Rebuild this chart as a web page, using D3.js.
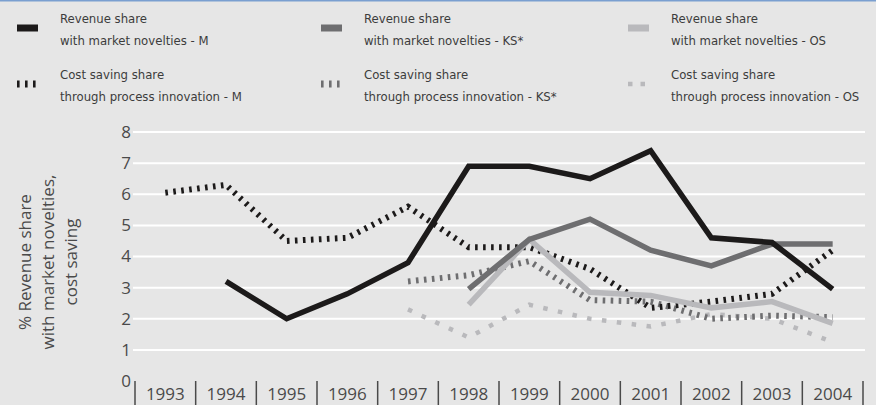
<!DOCTYPE html>
<meta charset="utf-8">
<style>
body { margin: 0; background: #e6e6e6; }
svg { display: block; background: #e6e6e6; }
.grid line { stroke: #fff; stroke-width: 2px; }
.tick-label { font-family: "Open Sans", "DejaVu Sans", sans-serif; font-size: 17px; fill: #4a4a4a; }
.legend text { font-family: "DejaVu Sans Condensed", "Liberation Sans Narrow", sans-serif; font-stretch: condensed; font-size: 13px; fill: #3c3c3c; }
.series { fill: none; stroke-linejoin: miter; stroke-linecap: butt; }
</style>
<body>
<svg width="876" height="405"></svg>
<script src="https://d3js.org/d3.v7.min.js"></script>
<script>

var years = ["1993", "1994", "1995", "1996", "1997", "1998", "1999", "2000", "2001", "2002", "2003", "2004"];
var yTicks = [0, 1, 2, 3, 4, 5, 6, 7, 8];

// null = no value for that year
var revenueM  = [null, 3.2, 2.0, 2.8, 3.8, 6.9, 6.9, 6.5, 7.4, 4.6, 4.45, 2.95];
var revenueKS = [null, null, null, null, null, 2.95, 4.55, 5.2, 4.2, 3.7, 4.4, 4.4];
var revenueOS = [null, null, null, null, null, 2.45, 4.55, 2.85, 2.75, 2.35, 2.55, 1.85];
var costM     = [6.05, 6.3, 4.5, 4.6, 5.6, 4.3, 4.3, 3.6, 2.35, 2.55, 2.8, 4.2];
var costKS    = [null, null, null, null, 3.2, 3.4, 3.85, 2.6, 2.55, 2.0, 2.1, 2.05];
var costOS    = [null, null, null, null, 2.3, 1.4, 2.45, 2.0, 1.75, 2.15, 2.0, 1.25];

var seriesNames = [
  ["Revenue share", "with market novelties - M"],
  ["Revenue share", "with market novelties - KS*"],
  ["Revenue share", "with market novelties - OS"],
  ["Cost saving share", "through process innovation - M"],
  ["Cost saving share", "through process innovation - KS*"],
  ["Cost saving share", "through process innovation - OS"]
];

var styles = [
  { color: "#1c1a1a", width: 5.5, dash: null },
  { color: "#6e6e70", width: 5.5, dash: null },
  { color: "#b9b9bc", width: 5.5, dash: null },
  { color: "#1c1a1a", width: 6, dash: "2.6,5.4" },
  { color: "#6e6e70", width: 6, dash: "2.6,5.4" },
  { color: "#b9b9bc", width: 4.5, dash: "4.5,10.5" }
];

var allSeries = [revenueM, revenueKS, revenueOS, costM, costKS, costOS];

var svg = d3.select("svg");

svg.append("rect").attr("x", 0).attr("y", 0).attr("width", 876).attr("height", 1.5).attr("fill", "#7a9fd0");

var x = d3.scaleBand().domain(years).range([135, 863]);
var y = d3.scaleLinear().domain([0, 8]).range([381, 132]);

// gridlines
svg.append("g").attr("class", "grid")
  .selectAll("line")
  .data(yTicks.filter(function(d) { return d > 0; }))
  .enter().append("line")
    .attr("x1", 133).attr("x2", 865)
    .attr("y1", function(d) { return y(d); })
    .attr("y2", function(d) { return y(d); });

// y tick labels
svg.append("g")
  .selectAll("text")
  .data(yTicks)
  .enter().append("text")
    .attr("class", "tick-label")
    .attr("x", 131)
    .attr("y", function(d) { return y(d); })
    .attr("dy", "0.35em")
    .attr("text-anchor", "end")
    .text(function(d) { return d; });

// x separators and labels
var bounds = years.map(function(d) { return x(d); }).concat([x.range()[1]]);
svg.append("g")
  .selectAll("line")
  .data(bounds)
  .enter().append("line")
    .attr("x1", function(d) { return d; })
    .attr("x2", function(d) { return d; })
    .attr("y1", 381).attr("y2", 405)
    .attr("stroke", "#4a4a4a")
    .attr("stroke-width", 1.5);

svg.append("g")
  .selectAll("text")
  .data(years)
  .enter().append("text")
    .attr("class", "tick-label")
    .attr("x", function(d) { return x(d) + x.bandwidth() / 2; })
    .attr("y", 400)
    .attr("text-anchor", "middle")
    .text(function(d) { return d; });

// y axis title
var yTitle = svg.append("text")
  .attr("class", "tick-label")
  .attr("transform", "translate(54,262) rotate(-90)")
  .attr("text-anchor", "middle");
["% Revenue share", "with market novelties,", "cost saving"].forEach(function(t, i) {
  yTitle.append("tspan").attr("x", 0).attr("dy", i === 0 ? "-1.38em" : "1.38em").text(t);
});

// lines
var line = d3.line()
  .defined(function(d) { return d != null; })
  .x(function(d, i) { return x(years[i]) + x.bandwidth() / 2; })
  .y(function(d) { return y(d); });

var drawOrder = [5, 4, 3, 2, 1, 0];
drawOrder.forEach(function(k) {
  svg.append("path")
    .attr("class", "series")
    .attr("d", line(allSeries[k]))
    .attr("stroke", styles[k].color)
    .attr("stroke-width", styles[k].width)
    .attr("stroke-dasharray", styles[k].dash);
});

// legend
var legendX = [17, 321, 628];
var legendY = [28, 84];
var legend = svg.append("g").attr("class", "legend");
seriesNames.forEach(function(name, k) {
  var col = k % 3, row = Math.floor(k / 3);
  var lx = legendX[col], ly = legendY[row];
  legend.append("line")
    .attr("x1", lx).attr("x2", lx + 21)
    .attr("y1", ly).attr("y2", ly)
    .attr("stroke", styles[k].color)
    .attr("stroke-width", k === 5 ? 4.5 : 7)
    .attr("stroke-dasharray", k === 5 ? "4.5,8" : styles[k].dash);
  legend.append("text")
    .attr("x", lx + 43).attr("y", ly - 5)
    .text(name[0]);
  legend.append("text")
    .attr("x", lx + 43).attr("y", ly + 17)
    .text(name[1]);
});

</script>
</body>
